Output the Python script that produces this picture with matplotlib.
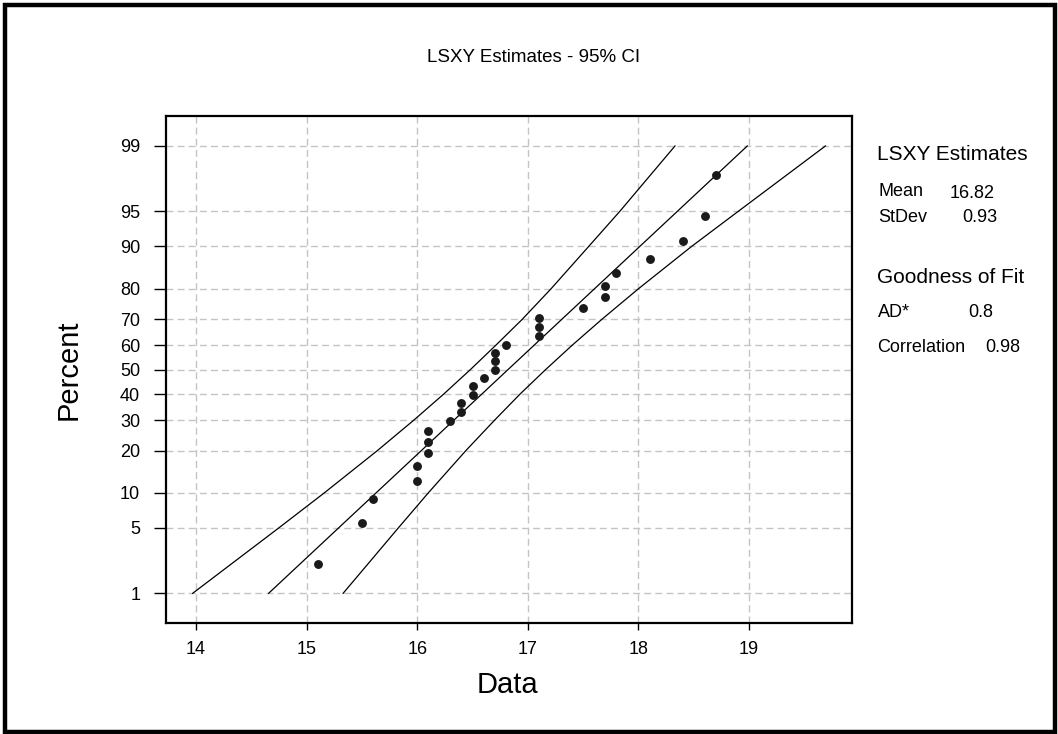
import matplotlib
matplotlib.use("Agg")
import matplotlib.pyplot as plt
from matplotlib.patches import Rectangle
from statistics import NormalDist

plt.rcParams['font.family'] = ['Liberation Sans', 'DejaVu Sans']

# data values (sorted) and their plotted percent positions
data = [15.1, 15.5, 15.6, 16.0, 16.0, 16.1, 16.1, 16.1, 16.3, 16.4,
        16.4, 16.5, 16.5, 16.6, 16.7, 16.7, 16.7, 16.8, 17.1, 17.1,
        17.1, 17.5, 17.7, 17.7, 17.8, 18.1, 18.4, 18.6, 18.7]
percent = [2.14, 5.56, 8.97, 12.39, 15.81, 19.23, 22.65, 26.07, 29.49, 32.91,
           36.32, 39.74, 43.16, 46.58, 50.00, 53.42, 56.84, 60.26, 63.68, 67.09,
           70.51, 73.93, 77.35, 80.77, 84.19, 87.61, 91.03, 94.44, 97.86]

# 95% CI band read at the tick percents
ci_pct = [1, 5, 10, 20, 30, 40, 50, 60, 70, 80, 90, 95, 99]
ci_lower = [13.97, 14.75, 15.16, 15.64, 15.97, 16.24, 16.48, 16.71, 16.95, 17.21, 17.55, 17.83, 18.33]
ci_upper = [15.33, 15.83, 16.10, 16.44, 16.70, 16.93, 17.16, 17.40, 17.67, 18.00, 18.48, 18.90, 19.69]

# fitted line
mean = 16.82
stdev = 0.93
ad_stat = "0.8"
corr = "0.98"

y_ticks = [1, 5, 10, 20, 30, 40, 50, 60, 70, 80, 90, 95, 99]
x_ticks = [14, 15, 16, 17, 18, 19]

nd = NormalDist()
def z(p):
    return nd.inv_cdf(p / 100.0)

W, H = 1058, 734
fig = plt.figure(figsize=(W / 100, H / 100), dpi=100)
ax = fig.add_axes([166 / W, 1 - 623 / H, (852 - 166) / W, (623 - 116) / H])

# grid
ax.set_axisbelow(True)
ax.grid(True, linestyle=(0, (5, 3)), color='#c4c4c4', linewidth=1.0)

# CI curves
ax.plot(ci_lower, [z(p) for p in ci_pct], color='black', lw=0.9)
ax.plot(ci_upper, [z(p) for p in ci_pct], color='black', lw=0.9)

# fit line from 1% to 99%
fit_x = [mean + z(1) * stdev, mean + z(99) * stdev]
ax.plot(fit_x, [z(1), z(99)], color='black', lw=0.9)

# points
ax.plot(data, [z(p) for p in percent], 'o', color='#1a1a1a', markersize=6.4,
        markeredgewidth=0)

ax.set_xlim(13.729, 19.93)
ax.set_ylim(-2.635, 2.638)
ax.set_xticks(x_ticks)
ax.set_xticklabels([str(v) for v in x_ticks])
ax.set_yticks([z(p) for p in y_ticks])
ax.set_yticklabels([str(p) for p in y_ticks])
ax.tick_params(axis='x', direction='out', length=5, width=1, pad=8, labelsize=13)
ax.tick_params(axis='y', direction='out', length=8.6, width=1, pad=10, labelsize=13)
for s in ax.spines.values():
    s.set_linewidth(1.6)

# labels and title
fig.text(534 / W, 1 - 57 / H, "LSXY Estimates - 95% CI", ha='center', va='center', fontsize=13.5)
fig.text(507 / W, 1 - 685 / H, "Data", ha='center', va='center', fontsize=21)
fig.text(69 / W, 1 - 370 / H, "Percent", ha='center', va='center', fontsize=21, rotation=90)

# stats panel
fig.text(877 / W, 1 - 154 / H, "LSXY Estimates", ha='left', va='center', fontsize=15)
fig.text(878 / W, 1 - 191 / H, "Mean", ha='left', va='center', fontsize=13)
fig.text(950 / W, 1 - 194 / H, "%.2f" % mean, ha='left', va='center', fontsize=13)
fig.text(878 / W, 1 - 217 / H, "StDev", ha='left', va='center', fontsize=13)
fig.text(962 / W, 1 - 217 / H, "%.2f" % stdev, ha='left', va='center', fontsize=13)
fig.text(877 / W, 1 - 277 / H, "Goodness of Fit", ha='left', va='center', fontsize=15)
fig.text(878 / W, 1 - 312 / H, "AD*", ha='left', va='center', fontsize=13)
fig.text(968 / W, 1 - 312 / H, ad_stat, ha='left', va='center', fontsize=13)
fig.text(877 / W, 1 - 348 / H, "Correlation", ha='left', va='center', fontsize=13)
fig.text(985 / W, 1 - 348 / H, corr, ha='left', va='center', fontsize=13)

# outer frame
fig.patches.append(Rectangle((5 / W, 2 / H), 1050 / W, 727 / H, transform=fig.transFigure,
                             fill=False, edgecolor='black', linewidth=3.2))

fig.savefig("out.png", dpi=100)
